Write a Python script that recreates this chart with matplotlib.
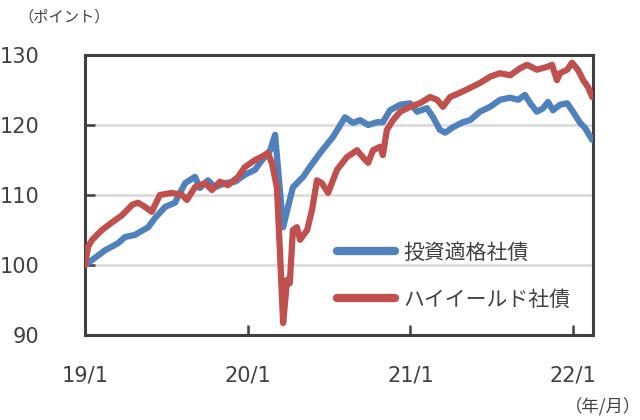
import matplotlib
matplotlib.use("Agg")
import matplotlib.pyplot as plt
import pandas as pd

ig_dates = ["2019-01-01", "2019-01-08", "2019-02-15", "2019-03-16", "2019-04-01", "2019-04-23",
            "2019-05-23", "2019-06-07", "2019-06-30", "2019-07-22", "2019-08-14", "2019-09-05",
            "2019-09-16", "2019-10-04", "2019-10-20", "2019-11-11", "2019-12-04", "2019-12-26",
            "2020-01-18", "2020-01-29", "2020-02-21", "2020-03-03", "2020-03-21", "2020-04-01",
            "2020-04-12", "2020-05-05", "2020-05-20", "2020-06-12", "2020-07-11", "2020-08-07",
            "2020-08-25", "2020-09-10", "2020-09-28", "2020-10-18", "2020-10-31", "2020-11-16",
            "2020-12-09", "2020-12-31", "2021-01-16", "2021-02-07", "2021-02-21", "2021-03-08",
            "2021-03-20", "2021-04-07", "2021-04-29", "2021-05-15", "2021-06-06", "2021-06-29",
            "2021-07-21", "2021-08-13", "2021-08-31", "2021-09-15", "2021-09-27", "2021-10-12",
            "2021-10-26", "2021-11-06", "2021-11-17", "2021-12-03", "2021-12-19", "2022-01-01",
            "2022-01-17", "2022-01-28", "2022-02-13"]
ig_values = [100.0, 100.3, 102.1, 103.1, 104.0, 104.3,
             105.4, 106.7, 108.3, 108.9, 111.7, 112.6,
             111.0, 112.1, 111.1, 111.7, 111.9, 112.9,
             113.6, 114.6, 116.4, 118.6, 105.4, 108.3,
             111.1, 112.6, 114.0, 116.0, 118.3, 121.1,
             120.3, 120.7, 120.0, 120.4, 120.4, 122.1,
             122.9, 123.1, 121.9, 122.4, 121.1, 119.3,
             118.9, 119.7, 120.4, 120.7, 121.9, 122.6,
             123.6, 123.9, 123.6, 124.3, 123.1, 121.9,
             122.4, 123.3, 122.1, 122.9, 123.1, 121.9,
             120.3, 119.6, 117.9]

hy_dates = ["2019-01-01", "2019-01-08", "2019-01-17", "2019-02-08", "2019-03-03", "2019-03-25",
            "2019-04-17", "2019-04-30", "2019-05-16", "2019-05-31", "2019-06-18", "2019-07-15",
            "2019-08-07", "2019-08-18", "2019-09-05", "2019-09-28", "2019-10-13", "2019-10-31",
            "2019-11-18", "2019-12-11", "2019-12-26", "2020-01-18", "2020-02-03", "2020-02-16",
            "2020-02-25", "2020-03-07", "2020-03-14", "2020-03-21", "2020-03-30", "2020-04-05",
            "2020-04-12", "2020-04-21", "2020-04-28", "2020-05-14", "2020-05-25", "2020-06-05",
            "2020-06-16", "2020-06-30", "2020-07-20", "2020-08-11", "2020-09-03", "2020-09-16",
            "2020-09-28", "2020-10-09", "2020-10-25", "2020-10-31", "2020-11-09", "2020-11-23",
            "2020-12-09", "2020-12-31", "2021-01-22", "2021-02-14", "2021-03-02", "2021-03-15",
            "2021-03-31", "2021-04-22", "2021-05-15", "2021-06-06", "2021-06-29", "2021-07-21",
            "2021-08-13", "2021-09-04", "2021-09-20", "2021-10-12", "2021-11-04", "2021-11-15",
            "2021-11-26", "2021-12-03", "2021-12-19", "2021-12-30", "2022-01-12", "2022-01-24",
            "2022-02-04", "2022-02-13"]
hy_values = [100.0, 102.6, 103.6, 105.0, 106.1, 107.1,
             108.6, 108.9, 108.3, 107.6, 110.0, 110.3,
             110.0, 109.3, 111.1, 111.7, 110.7, 111.9,
             111.4, 112.6, 114.0, 115.0, 115.5, 116.0,
             114.5, 111.1, 101.7, 91.7, 97.9, 97.4,
             105.0, 105.4, 103.6, 105.0, 107.9, 112.1,
             111.7, 110.3, 113.6, 115.4, 116.4, 115.4,
             114.6, 116.4, 116.9, 115.7, 119.3, 120.7,
             121.9, 122.6, 123.1, 124.0, 123.6, 122.6,
             124.0, 124.6, 125.3, 126.0, 126.9, 127.4,
             127.1, 128.1, 128.6, 127.9, 128.3, 128.6,
             126.4, 127.4, 127.9, 128.9, 127.9, 126.4,
             125.4, 124.0]

series_labels = ["投資適格社債", "ハイイールド社債"]
y_ticks = [90, 100, 110, 120, 130]
x_tick_dates = ["2019-01-01", "2020-01-01", "2021-01-01", "2022-01-01"]
x_tick_labels = ["19/1", "20/1", "21/1", "22/1"]

BLUE = "#4F81BD"
RED = "#C0504D"
DARK = "#404040"
JP = ["Noto Sans CJK JP", "DejaVu Sans"]
NUM = ["DejaVu Sans", "Noto Sans CJK JP"]

fig = plt.figure(figsize=(6.4, 4.2), dpi=100)
ax = fig.add_axes([85 / 640, 1 - 335 / 420, (593 - 85) / 640, (335 - 55) / 420])

ig_x = pd.to_datetime(ig_dates)
hy_x = pd.to_datetime(hy_dates)
l1, = ax.plot(ig_x, ig_values, color=BLUE, lw=4.5, solid_joinstyle="round",
              solid_capstyle="round", label=series_labels[0], zorder=3)
l2, = ax.plot(hy_x, hy_values, color=RED, lw=4.5, solid_joinstyle="round",
              solid_capstyle="round", label=series_labels[1], zorder=4)

ax.set_ylim(90, 130)
ax.set_xlim(pd.Timestamp("2019-01-01"), pd.Timestamp("2022-02-15"))
ax.set_yticks(y_ticks)
ax.set_yticklabels([str(v) for v in y_ticks], fontfamily=NUM, fontsize=15, color=DARK)
ax.set_xticks(pd.to_datetime(x_tick_dates))
ax.set_xticklabels(x_tick_labels, fontfamily=NUM, fontsize=15, color=DARK)

ax.grid(axis="y", color="#D9D9D9", lw=1.8)
ax.set_axisbelow(True)
ax.tick_params(axis="x", direction="in", length=7, width=1.8, color=DARK, pad=22)
ax.tick_params(axis="y", direction="in", length=7, width=1.8, color=DARK, pad=33)
for s in ax.spines.values():
    s.set_color(DARK)
    s.set_linewidth(2.2)

leg = ax.legend(handles=[l1, l2], loc="upper left", bbox_to_anchor=(327 / 640, 1 - 231 / 420),
                bbox_transform=fig.transFigure, frameon=False, borderpad=0,
                handlelength=2.75, handletextpad=0.4, labelspacing=1.2,
                prop={"family": JP, "size": 15})
for h in leg.legend_handles:
    h.set_linewidth(6)
for t in leg.get_texts():
    t.set_color(DARK)

fig.text(18 / 640, 1 - 17 / 420, "（ポイント）", fontfamily=JP, fontsize=11,
         color=DARK, ha="left", va="center")
fig.text(641 / 640, 1 - 407 / 420, "（年/月）", fontfamily=JP, fontsize=12.5,
         color=DARK, ha="right", va="center")

fig.savefig("out.png", dpi=100)
